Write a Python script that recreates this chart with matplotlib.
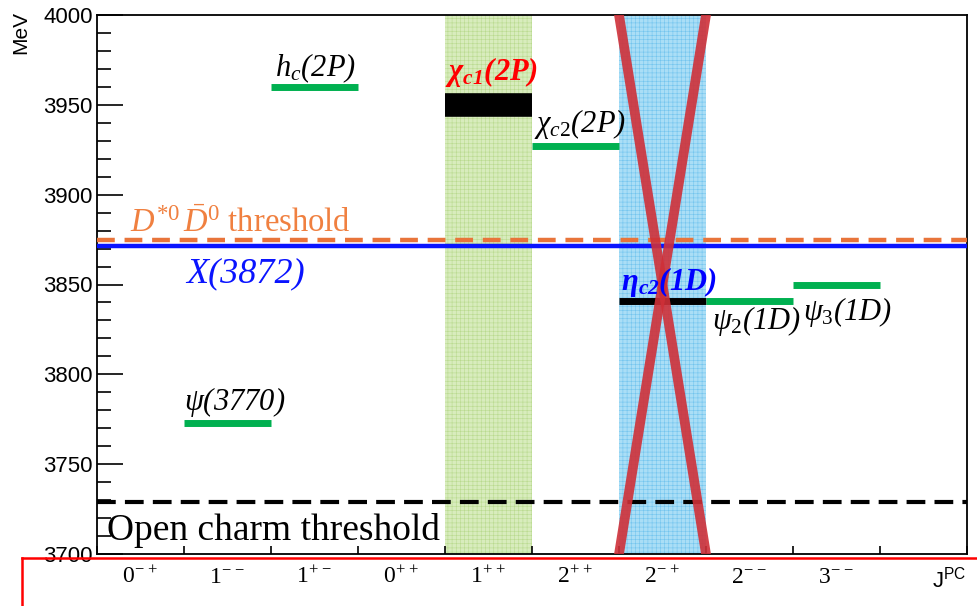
import matplotlib
matplotlib.use("Agg")
import matplotlib.pyplot as plt
from matplotlib.lines import Line2D

plt.rcParams["mathtext.fontset"] = "custom"
plt.rcParams["mathtext.rm"] = "Liberation Serif"
plt.rcParams["mathtext.it"] = "Liberation Serif:italic"
plt.rcParams["mathtext.bf"] = "Liberation Serif:bold"
plt.rcParams["mathtext.bfit"] = "Liberation Serif:italic:bold"
plt.rcParams["mathtext.sf"] = "Liberation Sans"
plt.rcParams["hatch.linewidth"] = 0.4

# J^PC columns along the x axis
jpc_labels = [r"$0^{-\,+}$", r"$1^{-\,-}$", r"$1^{+\,-}$", r"$0^{+\,+}$", r"$1^{+\,+}$",
              r"$2^{+\,+}$", r"$2^{-\,+}$", r"$2^{-\,-}$", r"$3^{-\,-}$"]

# charmonium levels: column index and mass (MeV)
level_names = [r"h$_c$(2P)", r"$\mathbfit{\chi_{c1}}$(2P)", r"$\chi_{c2}$(2P)",
               r"$\psi$(3770)", r"$\mathbfit{\eta_{c2}}$(1D)", r"$\psi_2$(1D)",
               r"$\psi_3$(1D)"]
level_col = [2, 4, 5, 1, 6, 7, 8]
level_mass = [3960, 3950, 3927, 3773, 3841, 3841, 3850]
level_color = ["#00b050", "black", "#00b050", "#00b050", "black", "#00b050", "#00b050"]
level_width = [5, 17, 5, 5, 5, 5, 5]
label_color = ["black", "red", "black", "black", "blue", "black", "black"]
label_bold = [False, True, False, False, True, False, False]

# thresholds (MeV)
x3872_mass = 3871.7
dstar_threshold = 3875.0
open_charm_threshold = 3729.0

# shaded columns: 1++ and 2-+
band_cols = [4, 6]
band_face = ["#d8ecbd", "#aadef6"]
band_hatch = ["#b9da8e", "#72c4ee"]
crossed_col = 6

y_lo, y_hi = 3700, 4000
n_cols = 10

fig = plt.figure(figsize=(9.77, 6.06), dpi=100)
ax = fig.add_axes([97 / 977, 1 - 554 / 606, 870 / 977, 539 / 606])
ax.set_xlim(0, n_cols)
ax.set_ylim(y_lo, y_hi)

for col, fc, hc in zip(band_cols, band_face, band_hatch):
    ax.axvspan(col, col + 1, facecolor=fc, edgecolor=hc, hatch="++++", linewidth=0, zorder=1)

ax.axhline(open_charm_threshold, color="black", lw=3, dashes=(4.5, 2.2), zorder=3)
ax.axhline(x3872_mass, color="#0a14ff", lw=3.2, zorder=3)
ax.axhline(dstar_threshold, color="#e8743a", lw=3.2, dashes=(4, 2.2), zorder=4)

for col, m, c, w in zip(level_col, level_mass, level_color, level_width):
    ax.plot([col, col + 1], [m, m], color=c, lw=w, solid_capstyle="butt", zorder=5)

# crossed-out 2-+ column
ax.plot([crossed_col, crossed_col + 1], [y_hi, y_lo], color="#cf3038", lw=7, alpha=0.9, zorder=6)
ax.plot([crossed_col + 1, crossed_col], [y_hi, y_lo], color="#cf3038", lw=7, alpha=0.9, zorder=6)

# level labels
label_dx = [0.05, 0.0, 0.02, 0.0, 0.02, 0.07, 0.12]
label_y = [3966, 3964, 3935, 3780, 3847, 3825, 3830]
for name, col, dx, y, c, b in zip(level_names, level_col, label_dx, label_y, label_color, label_bold):
    ax.text(col + dx, y, name, color=c, fontsize=22, family="Liberation Serif", style="italic",
            weight="bold" if b else "normal", ha="left", va="baseline", zorder=7)

ax.text(0.38, 3879, r"$\mathit{D}^{*0}\,\bar{\mathit{D}}^{0}$ threshold", color="#f08040",
        fontsize=23.5, family="Liberation Serif", ha="left", va="baseline", zorder=7)
ax.text(1.02, 3851, "X(3872)", color="#0a14ff", fontsize=26, family="Liberation Serif",
        style="italic", ha="left", va="baseline", zorder=7)
ax.text(0.11, 3708, "Open charm threshold", color="black", fontsize=27,
        family="Liberation Serif", ha="left", va="baseline", zorder=7)

# axes styling
ax.set_xticks(range(n_cols + 1))
ax.set_xticklabels([])
ax.tick_params(axis="x", direction="in", length=6, width=1.2, top=False)
ax.set_yticks(range(y_lo, y_hi + 1, 50))
ax.set_yticks(range(y_lo, y_hi + 1, 10), minor=True)
ax.tick_params(axis="y", which="major", direction="in", length=19, width=1.2, right=False,
               labelsize=16, pad=3)
ax.tick_params(axis="y", which="minor", direction="in", length=10, width=1.2, right=False)
for lab in ax.get_yticklabels():
    lab.set_family("Liberation Sans")
for sp in ax.spines.values():
    sp.set_linewidth(1.3)

for i, lab in enumerate(jpc_labels):
    ax.text(i + 0.5, -0.04, lab, transform=ax.get_xaxis_transform(), fontsize=17,
            ha="center", va="center", clip_on=False)
ax.text(9.8, -0.045, r"$\mathsf{J^{PC}}$", transform=ax.get_xaxis_transform(), fontsize=16,
        ha="center", va="center", clip_on=False)

fig.text(21 / 977, 1 - 32 / 606, "MeV", rotation=90, fontsize=15, family="Liberation Sans",
         ha="center", va="center")

# red frame along the bottom
fig.add_artist(Line2D([22 / 977, 1.0], [1 - 558 / 606, 1 - 558 / 606], color="red", lw=1.8,
                      transform=fig.transFigure))
fig.add_artist(Line2D([22 / 977, 22 / 977], [0, 1 - 558 / 606], color="red", lw=1.8,
                      transform=fig.transFigure))

fig.savefig("out.png", dpi=100)
